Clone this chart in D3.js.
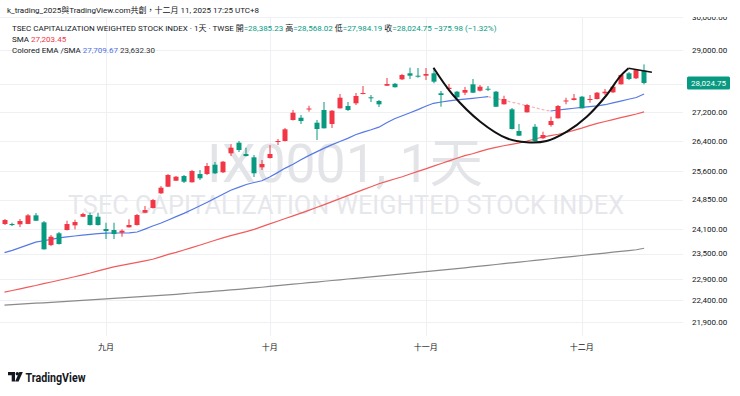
<!DOCTYPE html>
<html>
<head>
<meta charset="utf-8">
<script src="https://cdn.jsdelivr.net/npm/d3@7"></script>
<style>
  body { margin: 0; background: #fff; }
  svg { display: block; font-family: Roboto, "Noto Sans CJK TC", sans-serif; }
</style>
</head>
<body>
<svg id="chart" width="740" height="396"></svg>
<script>
// trading days shown (Aug 13 -> Dec 11, 2025)
const dates = [
  "2025-08-13","2025-08-14","2025-08-15","2025-08-18","2025-08-19","2025-08-20","2025-08-21","2025-08-22","2025-08-25","2025-08-26","2025-08-27","2025-08-28","2025-08-29",
  "2025-09-01","2025-09-02","2025-09-03","2025-09-04","2025-09-05","2025-09-08","2025-09-09","2025-09-10","2025-09-11","2025-09-12","2025-09-15","2025-09-16","2025-09-17","2025-09-18","2025-09-19","2025-09-22","2025-09-23","2025-09-24","2025-09-25","2025-09-26","2025-09-30",
  "2025-10-01","2025-10-02","2025-10-03","2025-10-07","2025-10-08","2025-10-09","2025-10-13","2025-10-14","2025-10-15","2025-10-16","2025-10-17","2025-10-20","2025-10-21","2025-10-22","2025-10-23","2025-10-27","2025-10-28","2025-10-29","2025-10-30","2025-10-31",
  "2025-11-03","2025-11-04","2025-11-05","2025-11-06","2025-11-07","2025-11-10","2025-11-11","2025-11-12","2025-11-13","2025-11-14","2025-11-17","2025-11-18","2025-11-19","2025-11-20","2025-11-21","2025-11-24","2025-11-25","2025-11-26","2025-11-27","2025-11-28",
  "2025-12-01","2025-12-02","2025-12-03","2025-12-04","2025-12-05","2025-12-08","2025-12-09","2025-12-10","2025-12-11"
];

const opens = [
  24230,24230,24222,24232,24448,24272,23710,23999,24081,24197,24413,24456,24413,
  24105,24081,24014,24148,24205,24514,24633,25010,25181,25337,25460,25296,25513,25513,25759,25558,26064,26351,26045,25956,25690,
  25937,26370,26397,26975,27039,27269,26900,27255,26864,27302,27367,27444,27709,27614,27509,27947,28002,28132,28307,28237,
  28237,28307,27729,27852,27775,27746,27987,27803,27860,27775,27416,27274,26671,27190,26789,26471,26836,27022,27495,27538,
  27632,27546,27566,27729,27757,27987,28307,28161,28385.23
];
const highs = [
  24355,24262,24355,24481,24506,24305,23957,24031,24313,24338,24514,24514,24514,
  24262,24262,24098,24348,24481,24684,24863,25199,25513,25460,25487,25619,25619,25804,25831,25858,26316,26397,26215,26018,25884,
  26288,26452,26754,27255,27114,27376,26975,27481,27255,27709,27481,27737,27938,27680,27538,28170,28025,28287,28471,28462,
  28462,28462,27795,27996,27795,27909,28141,27967,27938,27795,27660,27311,26864,27424,26864,26652,27067,27396,27603,27709,
  27652,27680,27766,27852,27938,28272,28345,28430,28568.02
];
const lows = [
  24205,24180,24155,24228,24305,23600,23686,23722,24068,24098,24405,24192,24192,
  23858,23858,23914,24143,24192,24506,24620,24991,25173,25330,25278,25290,25356,25487,25513,25540,25991,26099,25978,25434,25619,
  25924,26288,26384,26961,26864,27207,26424,26740,26754,27297,27227,27396,27700,27481,27339,27938,27895,28112,28141,28179,
  28112,28016,27347,27823,27595,27680,27737,27780,27795,27339,27410,26712,26534,27184,26384,26452,26789,27016,27416,27524,
  27297,27461,27552,27680,27737,27982,28112,28141,27984.19
];
const closes = [
  24330,24212,24305,24448,24312,23605,23914,23735,24230,24280,24481,24205,24205,
  24056,23982,24063,24205,24456,24582,24837,25155,25487,25442,25311,25592,25400,25725,25532,25839,26215,26153,25991,25532,25778,
  26045,26397,26718,27179,26947,27297,26726,26745,27235,27603,27255,27652,27737,27586,27415,27996,27903,28257,28237,28208,
  28287,28063,27680,27889,27614,27823,27746,27918,27843,27347,27566,26726,26542,27396,26397,26561,26947,27367,27524,27586,
  27302,27566,27746,27775,27918,28257,28141,28401,28024.75
];

// indicator readings
const emaValues = [
  23527,23581,23646,23713,23782,23816,23850,23885,23909,23932,
  23954,23971,23989,24004,24006,24006,24011,24031,24103,24180,
  24250,24330,24415,24498,24590,24684,24781,24881,24987,25088,
  25163,25238,25290,25337,25434,25550,25669,25772,25890,26002,
  26102,26204,26299,26384,26468,26569,26638,26704,26776,26897,
  27011,27095,27179,27266,27359,27444,27481,27515,27541,27563,
  27586,27609,27632,27580,27529,27478,27430,27373,27319,27263,
  27227,27255,27280,27305,27331,27350,27370,27404,27455,27506,
  27558,27609,27709.67
];
const smaValues = [
  22584,22623,22663,22703,22740,22783,22823,22865,22905,22947,
  22990,23035,23085,23135,23183,23219,23255,23291,23327,23365,
  23423,23484,23532,23588,23646,23705,23767,23828,23887,23942,
  23991,24041,24098,24165,24232,24300,24367,24435,24504,24572,
  24645,24719,24796,24873,24950,25028,25106,25181,25259,25319,
  25382,25442,25513,25582,25650,25722,25791,25860,25932,26002,
  26053,26115,26175,26226,26267,26307,26348,26397,26452,26506,
  26544,26582,26630,26688,26751,26820,26883,26933,26986,27041,
  27092,27143,27203.45
];
const longSmaValues = [
  22283,22294,22306,22317,22329,22338,22350,22361,22373,22382,
  22393,22405,22417,22428,22440,22451,22463,22474,22486,22498,
  22510,22521,22535,22551,22565,22579,22593,22607,22621,22637,
  22651,22668,22684,22700,22719,22736,22754,22771,22787,22806,
  22822,22841,22858,22874,22893,22909,22928,22945,22961,22981,
  22997,23016,23033,23049,23069,23085,23104,23121,23140,23159,
  23180,23200,23219,23238,23260,23279,23298,23317,23336,23356,
  23377,23396,23416,23435,23455,23477,23496,23515,23535,23554,
  23576,23595,23632.30
];

const priceTicks = [21900, 22400, 22900, 23500, 24100, 24850, 25600, 26400, 27200, 28000, 29000, 30000];
const monthStarts = ["2025-09-01", "2025-10-01", "2025-11-03", "2025-12-01"];
const monthLabels = ["九月", "十月", "十一月", "十二月"];

// hand drawn cup & handle (bar position, price)
const cupBars   = [55.0, 57.5, 61.0, 64.4, 66.95, 69.5, 72.1, 74.65, 77.2, 78.9, 80.0];
const cupPrices = [28471, 27680, 26928, 26471, 26362, 26397, 26652, 27066, 27680, 28208, 28453];
const handleBars   = [80.0, 83.0];
const handlePrices = [28453, 28336];

const UP = "#f23645", DOWN = "#089981";
const plotRight = 683, plotTop = 17, plotBottom = 336;

var svg = d3.select("#chart");

var x = d3.scaleLinear().domain([0, dates.length - 1]).range([4.5, 644.1]);
var y = d3.scaleLog().domain([21900, 30000]).range([322, 17]);

svg.append("rect").attr("width", 740).attr("height", 396).attr("fill", "#fff");

svg.append("defs").append("clipPath").attr("id", "plotClip")
  .append("rect").attr("x", 0).attr("y", plotTop).attr("width", plotRight).attr("height", plotBottom - plotTop);
svg.select("defs").append("clipPath").attr("id", "axisClip")
  .append("rect").attr("x", plotRight).attr("y", plotTop).attr("width", 740 - plotRight).attr("height", plotBottom - plotTop);

// grid
var grid = svg.append("g").attr("clip-path", "url(#plotClip)");
grid.selectAll(".hg").data(priceTicks).enter().append("line")
  .attr("x1", 0).attr("x2", plotRight)
  .attr("y1", d => Math.round(y(d)) + 0.5).attr("y2", d => Math.round(y(d)) + 0.5)
  .attr("stroke", "#eef0f4");
grid.selectAll(".vg").data(monthStarts).enter().append("line")
  .attr("x1", d => Math.round(x(dates.indexOf(d))) + 0.5).attr("x2", d => Math.round(x(dates.indexOf(d))) + 0.5)
  .attr("y1", plotTop).attr("y2", plotBottom)
  .attr("stroke", "#eef0f4");

// watermark
svg.append("text").attr("x", 345).attr("y", 182).attr("text-anchor", "middle")
  .attr("font-size", 53.5).attr("fill", "#e3e4e8").text("IX0001, 1天");
svg.append("text").attr("x", 346).attr("y", 214).attr("text-anchor", "middle")
  .attr("font-size", 25.3).attr("fill", "#e6e7eb").text("TSEC CAPITALIZATION WEIGHTED STOCK INDEX");

var plot = svg.append("g").attr("clip-path", "url(#plotClip)");

// moving averages
var line = d3.line().x((d, i) => x(i)).y(d => y(d));
plot.append("path").attr("d", line(longSmaValues)).attr("fill", "none").attr("stroke", "#8a8a8a").attr("stroke-width", 1.2);
plot.append("path").attr("d", line(smaValues)).attr("fill", "none").attr("stroke", "#f05b5b").attr("stroke-width", 1.2);

// colored EMA: blue while rising, faint pink while falling
var runs = [];
for (var i = 0; i < emaValues.length - 1; i++) {
  var falling = emaValues[i + 1] < emaValues[i];
  if (!runs.length || runs[runs.length - 1].falling !== falling) runs.push({falling: falling, idx: [i]});
  runs[runs.length - 1].idx.push(i + 1);
}
var segLine = d3.line().x(i => x(i)).y(i => y(emaValues[i]));
runs.forEach(function(r) {
  plot.append("path").attr("d", segLine(r.idx)).attr("fill", "none")
    .attr("stroke", r.falling ? "#f6b3b8" : "#5679e4")
    .attr("stroke-width", 1.2)
    .attr("stroke-dasharray", r.falling ? "3,2" : null);
});

// candles
var candles = plot.selectAll(".c").data(dates).enter().append("g");
candles.append("line")
  .attr("x1", (d, i) => Math.round(x(i))).attr("x2", (d, i) => Math.round(x(i)))
  .attr("y1", (d, i) => y(highs[i])).attr("y2", (d, i) => y(lows[i]))
  .attr("stroke", (d, i) => closes[i] >= opens[i] ? UP : DOWN).attr("stroke-width", 1);
candles.append("rect")
  .attr("x", (d, i) => Math.round(x(i)) - 2.5)
  .attr("width", 5)
  .attr("y", (d, i) => Math.min(y(opens[i]), y(closes[i])))
  .attr("height", (d, i) => Math.max(1, Math.abs(y(opens[i]) - y(closes[i]))))
  .attr("fill", (d, i) => closes[i] >= opens[i] ? UP : DOWN);

// cup drawing
var cupLine = d3.line().x(d => x(d[0])).y(d => y(d[1])).curve(d3.curveCatmullRom);
plot.append("path").attr("d", cupLine(cupBars.map((b, i) => [b, cupPrices[i]])))
  .attr("fill", "none").attr("stroke", "#111").attr("stroke-width", 2);
plot.append("path").attr("d", d3.line().x(d => x(d[0])).y(d => y(d[1]))(handleBars.map((b, i) => [b, handlePrices[i]])))
  .attr("fill", "none").attr("stroke", "#111").attr("stroke-width", 1.6);

// price axis
var fmt = d3.format(",.2f");
var axis = svg.append("g").attr("clip-path", "url(#axisClip)");
axis.selectAll(".t").data(priceTicks).enter().append("text")
  .attr("x", 692).attr("y", d => y(d)).attr("dy", "0.35em")
  .attr("font-size", 8).attr("fill", "#131722").text(d => fmt(d));
var last = closes[closes.length - 1];
axis.append("rect").attr("x", 687).attr("y", y(last) - 6.5).attr("width", 43).attr("height", 13)
  .attr("rx", 1.5).attr("fill", DOWN);
axis.append("text").attr("x", 708.5).attr("y", y(last)).attr("dy", "0.35em").attr("text-anchor", "middle")
  .attr("font-size", 8).attr("fill", "#fff").text(fmt(last));

// time axis
svg.selectAll(".m").data(monthStarts).enter().append("text")
  .attr("x", d => x(dates.indexOf(d))).attr("y", 350).attr("text-anchor", "middle")
  .attr("font-size", 8).attr("fill", "#131722").text((d, i) => monthLabels[i]);

// header
svg.append("text").attr("x", 7).attr("y", 13).attr("font-size", 8).attr("fill", "#131722")
  .text("k_trading_2025與TradingView.com共創，十二月 11, 2025 17:25 UTC+8");

var l2 = svg.append("text").attr("x", 12).attr("y", 31).attr("font-size", 8).attr("fill", "#131722");
l2.append("tspan").text("TSEC CAPITALIZATION WEIGHTED STOCK INDEX · 1天 · TWSE");
[["開", opens], ["高", highs], ["低", lows], ["收", closes]].forEach(function(p) {
  l2.append("tspan").text(" " + p[0]);
  l2.append("tspan").attr("fill", DOWN).text("=" + fmt(p[1][p[1].length - 1]));
});
l2.append("tspan").attr("fill", DOWN).text("  −375.98 (−1.32%)");

var l3 = svg.append("text").attr("x", 12).attr("y", 42).attr("font-size", 8).attr("fill", "#131722");
l3.append("tspan").text("SMA ");
l3.append("tspan").attr("fill", UP).text(" " + fmt(smaValues[smaValues.length - 1]));

var l4 = svg.append("text").attr("x", 12).attr("y", 53).attr("font-size", 8).attr("fill", "#131722");
l4.append("tspan").text("Colored EMA /SMA ");
l4.append("tspan").attr("fill", "#4f6fe0").text(" " + fmt(emaValues[emaValues.length - 1]));
l4.append("tspan").attr("fill", "#333").text("  " + fmt(longSmaValues[longSmaValues.length - 1]));

// logo
var logo = svg.append("g").attr("fill", "#131722");
logo.append("path").attr("d", "M8,372 h7 v9.5 h-3.3 v-6.3 h-3.7 z");
logo.append("circle").attr("cx", 17.3).attr("cy", 373.8).attr("r", 1.7);
logo.append("path").attr("d", "M19.3,372 h3.5 l-4.2,9.5 h-3.5 z");
svg.append("text").attr("x", 25.5).attr("y", 382)
  .attr("font-size", 13).attr("font-weight", 700).attr("fill", "#131722")
  .attr("textLength", 60).attr("lengthAdjust", "spacingAndGlyphs").text("TradingView");
</script>
</body>
</html>
